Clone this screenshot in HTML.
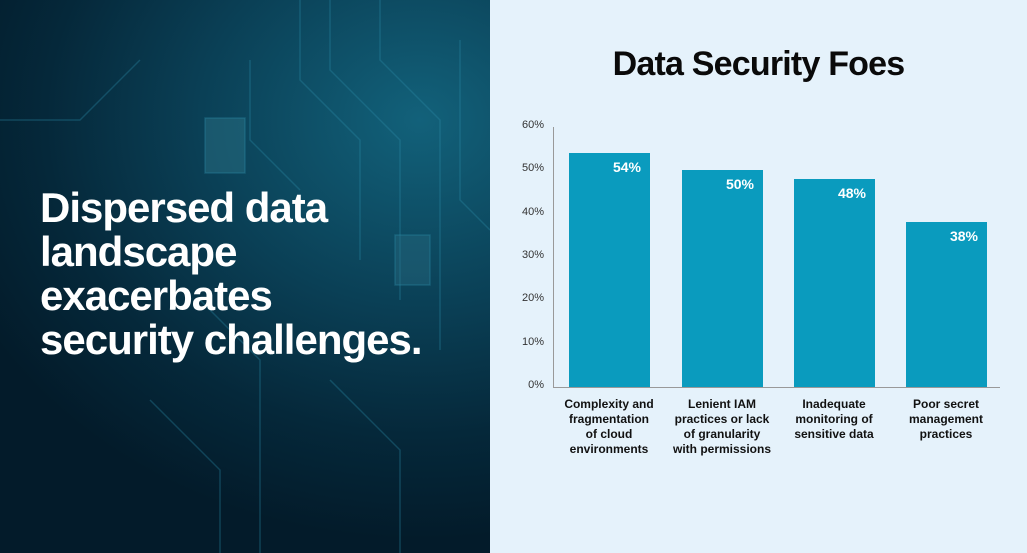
<!DOCTYPE html><html><head><style>
body{margin:0;width:1027px;height:553px;overflow:hidden;position:relative;font-family:"Liberation Sans",sans-serif}
#l{position:absolute;left:0;top:0;width:490px;height:553px;background:radial-gradient(ellipse 500px 420px at 420px 120px,#12617a 0%,#0a3f55 45%,#05283a 75%,#031b2a 100%)}
#l h1{position:absolute;left:40px;top:186px;margin:0;color:#fff;font-size:42px;line-height:44px;font-weight:bold;letter-spacing:-1px}
#r{position:absolute;left:490px;top:0;width:537px;height:553px;background:#e5f2fb}
.t{position:absolute;left:490px;width:537px;top:45px;text-align:center;font-size:34px;font-weight:bold;color:#0a0a0a;letter-spacing:-0.8px}
.y{position:absolute;left:510px;width:34px;text-align:right;font-size:11px;color:#333}
.b{position:absolute;background:#0a9bbe;width:81px}
.b span{position:absolute;right:9px;top:6px;color:#fff;font-weight:bold;font-size:14px}
.x{position:absolute;top:397px;width:130px;text-align:center;font-size:12px;font-weight:bold;line-height:15px;color:#111;white-space:nowrap}
</style></head><body>
<div id="l"><svg width="490" height="553" style="position:absolute;left:0;top:0" stroke="#2a8aa5" stroke-opacity=".35" fill="none" stroke-width="1.5">
<path d="M300 0 L300 80 L360 140 L360 260"/><path d="M330 0 L330 70 L400 140 L400 300"/><path d="M380 0 L380 60 L440 120 L440 350"/><path d="M250 60 L250 140 L300 190"/><path d="M460 40 L460 200 L490 230"/><path d="M200 300 L260 360 L260 553"/><path d="M150 400 L220 470 L220 553"/><path d="M330 380 L400 450 L400 553"/><path d="M0 120 L80 120 L140 60"/>
<rect x="205" y="118" width="40" height="55" fill="#2a6f84" fill-opacity=".5"/><rect x="395" y="235" width="35" height="50" fill="#2a6f84" fill-opacity=".4"/></svg>
<h1>Dispersed data<br>landscape<br>exacerbates<br>security challenges.</h1></div>
<div id="r"></div>
<div class="t">Data Security Foes</div>
<div class="y" style="top:119px">60%</div><div class="y" style="top:162px">50%</div><div class="y" style="top:206px">40%</div><div class="y" style="top:249px">30%</div><div class="y" style="top:292px">20%</div><div class="y" style="top:336px">10%</div><div class="y" style="top:379px">0%</div>
<div style="position:absolute;left:553px;top:127px;width:1px;height:260px;background:#999"></div>
<div style="position:absolute;left:553px;top:387px;width:447px;height:1px;background:#999"></div>
<div class="b" style="left:569px;top:153px;height:234px"><span>54%</span></div>
<div class="b" style="left:682px;top:170px;height:217px"><span>50%</span></div>
<div class="b" style="left:794px;top:179px;height:208px"><span>48%</span></div>
<div class="b" style="left:906px;top:222px;height:165px"><span>38%</span></div>
<div class="x" style="left:544px">Complexity and<br>fragmentation<br>of cloud<br>environments</div>
<div class="x" style="left:657px">Lenient IAM<br>practices or lack<br>of granularity<br>with permissions</div>
<div class="x" style="left:769px">Inadequate<br>monitoring of<br>sensitive data</div>
<div class="x" style="left:881px">Poor secret<br>management<br>practices</div>
</body></html>
